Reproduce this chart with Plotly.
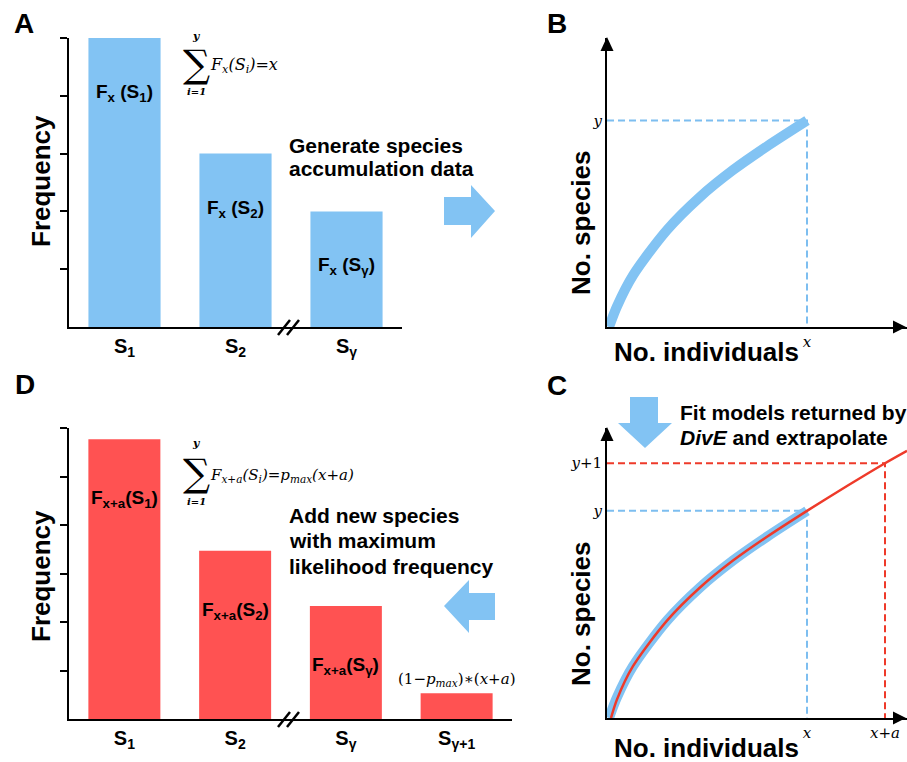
import plotly.graph_objects as go

# ---------------- data ----------------
A_categories = ["S<sub>1</sub>", "S<sub>2</sub>", "S<sub>γ</sub>"]
A_frequency = [5.0, 3.0, 2.0]
A_bar_labels = ["F<sub>x</sub> (S<sub>1</sub>)", "F<sub>x</sub> (S<sub>2</sub>)", "F<sub>x</sub> (S<sub>γ</sub>)"]
A_yticks = [1, 2, 3, 4, 5]

D_categories = ["S<sub>1</sub>", "S<sub>2</sub>", "S<sub>γ</sub>", "S<sub>γ+1</sub>"]
D_frequency = [5.77, 3.47, 2.33, 0.53]
D_bar_labels = ["F<sub>x+a</sub>(S<sub>1</sub>)", "F<sub>x+a</sub>(S<sub>2</sub>)", "F<sub>x+a</sub>(S<sub>γ</sub>)"]
D_yticks = [1, 2, 3, 4, 5, 6]

obs_individuals = [0.01, 0.05, 0.13, 0.30, 0.465, 0.63, 0.80, 1.00]
obs_species = [0.00, 0.10, 0.25, 0.47, 0.63, 0.76, 0.875, 1.00]
fit_individuals = [0.02, 0.05, 0.13, 0.30, 0.465, 0.63, 0.80, 1.00, 1.20, 1.39, 1.50]
fit_species = [0.00, 0.09, 0.25, 0.47, 0.63, 0.76, 0.875, 1.00, 1.12, 1.23, 1.29]

x_obs, y_obs = 1.0, 1.0
x_ext, y_ext = 1.39, 1.23
B_xtick_text = ["<i>x</i>"]
B_ytick_text = ["<i>y</i>"]
C_xtick_text = ["<i>x</i>", "<i>x</i>+<i>a</i>"]
C_ytick_text = ["<i>y</i>", "<i>y</i>+1"]

# ---------------- style ----------------
W, H = 907, 762
BLUE = "#82C3F3"
RED = "#FF5252"
RED_LINE = "#EE3A2A"
BLUE_DASH = "#7DBEF0"
SANS = "Liberation Sans, Arial, sans-serif"
SERIF = "DejaVu Serif, serif"


def px(x):
    return x / W


def py(y):
    return 1 - y / H


fig = go.Figure()

# Panel A bars
fig.add_trace(go.Bar(x=A_categories, y=A_frequency, marker=dict(color=BLUE, line=dict(width=0)),
                     width=0.65, xaxis="x", yaxis="y"))
# Panel D bars
fig.add_trace(go.Bar(x=D_categories, y=D_frequency, marker=dict(color=RED, line=dict(width=0)),
                     width=0.65, xaxis="x4", yaxis="y4"))

# Panel B
fig.add_trace(go.Scatter(x=[0, x_obs, x_obs], y=[y_obs, y_obs, 0], mode="lines",
                         line=dict(color=BLUE_DASH, width=2, dash="7px,4px"), xaxis="x2", yaxis="y2"))
fig.add_trace(go.Scatter(x=obs_individuals, y=obs_species, mode="lines",
                         line=dict(color=BLUE, width=10, shape="spline", smoothing=0.8), xaxis="x2", yaxis="y2"))

# Panel C
fig.add_trace(go.Scatter(x=[0, x_obs, x_obs], y=[y_obs, y_obs, 0], mode="lines",
                         line=dict(color=BLUE_DASH, width=2, dash="7px,4px"), xaxis="x3", yaxis="y3"))
fig.add_trace(go.Scatter(x=[0, x_ext, x_ext], y=[y_ext, y_ext, 0], mode="lines",
                         line=dict(color=RED_LINE, width=2, dash="7px,4px"), xaxis="x3", yaxis="y3"))
fig.add_trace(go.Scatter(x=obs_individuals, y=obs_species, mode="lines",
                         line=dict(color=BLUE, width=10, shape="spline", smoothing=0.8), xaxis="x3", yaxis="y3"))
fig.add_trace(go.Scatter(x=fit_individuals, y=fit_species, mode="lines",
                         line=dict(color=RED_LINE, width=2.5, shape="spline", smoothing=0.8), xaxis="x3", yaxis="y3"))

base_axis = dict(showgrid=False, zeroline=False, showline=True, linecolor="black", linewidth=2)
cat_font = dict(family=SANS, size=20, color="black", weight="bold")
math_font = dict(family=SERIF, size=15, color="black")

fig.update_layout(
    width=W, height=H, margin=dict(l=0, r=0, t=0, b=0),
    paper_bgcolor="white", plot_bgcolor="white", showlegend=False,
    xaxis=dict(base_axis, domain=[px(69), px(402)], range=[-0.5, 2.5], ticks="",
               tickfont=cat_font, anchor="y"),
    yaxis=dict(base_axis, domain=[py(327), py(38)], range=[0, 5], ticks="outside", ticklen=7,
               tickwidth=2, tickcolor="black", tickvals=A_yticks, showticklabels=False, anchor="x"),
    xaxis4=dict(base_axis, domain=[px(69), px(512)], range=[-0.5, 3.5], ticks="",
                tickfont=cat_font, anchor="y4"),
    yaxis4=dict(base_axis, domain=[py(719), py(428)], range=[0, 6], ticks="outside", ticklen=7,
                tickwidth=2, tickcolor="black", tickvals=D_yticks, showticklabels=False, anchor="x4"),
    xaxis2=dict(base_axis, domain=[px(607), 1], range=[0, 1.5], ticks="", tickvals=[x_obs],
                ticktext=B_xtick_text, tickfont=math_font, anchor="y2", ticklabelstandoff=0),
    yaxis2=dict(base_axis, domain=[py(327), py(38)], range=[0, 1.4], ticks="", tickvals=[y_obs],
                ticktext=B_ytick_text, tickfont=math_font, anchor="x2"),
    xaxis3=dict(base_axis, domain=[px(607), 1], range=[0, 1.5], ticks="", tickvals=[x_obs, x_ext],
                ticktext=C_xtick_text, tickfont=math_font, anchor="y3", ticklabelstandoff=0),
    yaxis3=dict(base_axis, domain=[py(718), py(428)], range=[0, 1.4], ticks="", tickvals=[y_obs, y_ext],
                ticktext=C_ytick_text, tickfont=math_font, anchor="x3"),
)

annotations = []


def ann(text, x, y, size=21, bold=True, family=SANS, xanchor="center", angle=0, italic=False):
    annotations.append(dict(text=text, x=px(x), y=py(y), xref="paper", yref="paper",
                            xanchor=xanchor, yanchor="middle", showarrow=False, textangle=angle,
                            font=dict(family=family, size=size, color="black",
                                      weight="bold" if bold else "normal",
                                      style="italic" if italic else "normal")))


# panel letters
ann("A", 24, 23, size=28)
ann("B", 557, 23, size=28)
ann("C", 557, 386, size=28)
ann("D", 25, 384, size=28)

# axis titles
ann("Frequency", 41, 181, size=26, angle=-90)
ann("Frequency", 41, 576, size=26, angle=-90)
ann("No. species", 581, 223, size=26, angle=-90)
ann("No. species", 581, 614, size=26, angle=-90)
ann("No. individuals", 706, 352, size=26)
ann("No. individuals", 706, 748, size=26)

# descriptive texts
ann("Generate species", 287, 145, xanchor="left")
ann("accumulation data", 287, 169, xanchor="left")
ann("Add new species", 287, 515, xanchor="left")
ann("with maximum", 287, 540, xanchor="left")
ann("likelihood frequency", 287, 566, xanchor="left")
ann("Fit models returned by", 678, 412, xanchor="left")
ann("<i>DivE</i> and extrapolate", 678, 437, xanchor="left")

# sum formulas
ann("∑", 196, 64, size=38, bold=False, family=SERIF)
ann("y", 196, 36, size=11, bold=True, family=SERIF, italic=True)
ann("i=1", 196, 92, size=10, bold=True, family=SERIF, italic=True)
ann("F<sub>x</sub>(S<sub>i</sub>)=x", 208, 66, size=16, bold=False, family=SERIF, xanchor="left", italic=True)

ann("∑", 196, 473, size=38, bold=False, family=SERIF)
ann("y", 196, 443, size=11, bold=True, family=SERIF, italic=True)
ann("i=1", 196, 501, size=10, bold=True, family=SERIF, italic=True)
ann("F<sub>x+a</sub>(S<sub>i</sub>)=p<sub>max</sub>(x+a)", 208, 475, size=15, bold=False, family=SERIF,
    xanchor="left", italic=True)

# bar labels
for i, t in enumerate(A_bar_labels):
    annotations.append(dict(text=t, x=i, y=A_frequency[i], xref="x", yref="y", yshift=-55,
                            showarrow=False, font=dict(family=SANS, size=19, color="black", weight="bold")))
for i, t in enumerate(D_bar_labels):
    annotations.append(dict(text=t, x=i, y=D_frequency[i], xref="x4", yref="y4", yshift=-60,
                            showarrow=False, font=dict(family=SANS, size=19, color="black", weight="bold")))
annotations.append(dict(text="(1−<i>p<sub>max</sub></i>)∗(<i>x</i>+<i>a</i>)", x=3, y=D_frequency[3],
                        xref="x4", yref="y4", yshift=14, showarrow=False,
                        font=dict(family=SERIF, size=15, color="black")))

fig.update_layout(annotations=annotations)

shapes = []


def path(points, color):
    d = "M " + " L ".join(f"{px(x):.5f},{py(y):.5f}" for x, y in points) + " Z"
    shapes.append(dict(type="path", path=d, xref="paper", yref="paper",
                       fillcolor=color, line=dict(width=0)))


def seg(x0, y0, x1, y1, w=2.5):
    shapes.append(dict(type="line", x0=px(x0), y0=py(y0), x1=px(x1), y1=py(y1),
                       xref="paper", yref="paper", line=dict(color="black", width=w)))


# block arrows
path([(444, 197), (471, 197), (471, 185), (495, 211), (471, 238), (471, 225), (444, 225)], BLUE)
path([(495, 593), (469, 593), (469, 580), (444, 606), (469, 633), (469, 620), (495, 620)], BLUE)
path([(630, 397), (658, 397), (658, 423), (672, 423), (645, 448), (618, 423), (630, 423)], BLUE)

# axis arrowheads
path([(607, 37), (600.5, 51), (613.5, 51)], "black")
path([(906, 327), (893, 320.5), (893, 333.5)], "black")
path([(607, 427), (600.5, 441), (613.5, 441)], "black")
path([(906, 718), (893, 711.5), (893, 724.5)], "black")

# axis breaks
seg(278, 335, 290, 320)
seg(287, 335, 299, 320)
seg(278, 727, 290, 712)
seg(287, 727, 299, 712)

fig.update_layout(shapes=shapes)
fig.write_html("out.html", config={"displayModeBar": False},
               post_script="document.body.style.margin='0';document.body.style.overflow='hidden';")
